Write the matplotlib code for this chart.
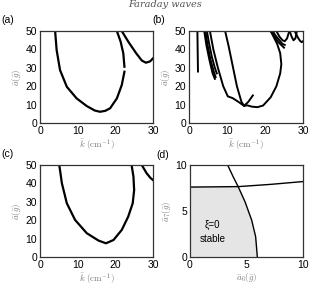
import numpy as np
import matplotlib
matplotlib.use('Agg')
import matplotlib.pyplot as plt

plt.rcParams['font.family'] = ['Liberation Sans', 'DejaVu Sans']
plt.rcParams['mathtext.fontset'] = 'cm'
plt.rcParams['font.size'] = 7.5

# ===================== data =====================
# panel (a)
a1_k = [4.0, 4.4, 5.3, 7.1, 9.7, 12.4, 14.5, 15.9, 17.3, 18.6, 20.4, 21.7, 22.4]
a1_y = [50, 39.7, 28.8, 19.7, 13.4, 9.2, 6.8, 6.1, 6.6, 8.0, 13.4, 20.7, 27.9]
a1b_k = [22.4, 22.1, 21.4, 20.4]
a1b_y = [30.6, 37.9, 44.2, 50]
a2_k = [21.7, 23.5, 25.5, 27.0, 28.1, 29.2, 30.0]
a2_y = [50, 44.0, 38.0, 34.0, 32.8, 33.5, 35.2]

# panel (b)
b_lines = [
    ([2.2, 2.25, 2.3, 2.35], [50, 42, 35, 28]),
    ([4.0, 4.6, 5.4, 6.2, 6.8], [50, 42, 34, 27, 24]),
    ([4.3, 4.9, 5.7, 6.5, 7.0], [50, 42, 34, 28, 25]),
    ([4.7, 5.3, 6.0, 6.8, 7.3], [50, 43, 36, 30, 27]),
    ([5.5, 6.4, 7.6, 9.0, 10.2, 11.5, 13.0, 14.5, 15.6, 16.8],
     [50, 40, 30, 20, 14.5, 13.5, 11.5, 9.3, 11.5, 15.0]),
    ([9.5, 10.4, 11.4, 12.6, 13.8, 14.5, 15.3, 16.5, 18.0, 19.5, 21.5, 23.0, 24.0, 24.3, 24.0, 23.2, 22.0, 21.5],
     [50, 42, 32, 20, 11.5, 9.3, 9.6, 8.9, 8.6, 9.5, 14.0, 20.0, 27.0, 32.0, 38.0, 43.0, 48.0, 50]),
    ([21.5, 22.5, 23.5, 24.5, 25.0], [50, 47, 44, 42, 41]),
    ([22.0, 22.8, 23.8, 24.6, 25.2], [50, 47.5, 45, 43, 42.5]),
    ([23.0, 23.8, 24.6, 25.2, 25.8, 26.4], [50, 47, 45, 44.5, 46, 50]),
    ([26.5, 27.0, 27.5, 28.0, 28.4], [50, 47, 45, 46, 50]),
    ([27.8, 28.3, 28.8, 29.3, 29.7, 30.0], [50, 48, 46, 44.5, 44, 44.5]),
]

# panel (c)
c1_k = [5.1, 5.8, 7.1, 9.3, 12.4, 15.5, 17.5, 19.5, 21.7, 23.4, 24.6, 24.96]
c1_y = [50, 40.0, 29.2, 20.1, 12.9, 8.9, 7.4, 9.2, 14.7, 21.9, 29.2, 36.0]
c1b_k = [24.96, 24.8, 24.3]
c1b_y = [37.0, 43.6, 50]
c2_k = [27.0, 28.3, 29.3, 30.0]
c2_y = [50, 45.5, 43.0, 41.8]

# panel (d)
d_curve_x = [3.33, 3.83, 4.28, 4.87, 5.46, 5.81, 5.96]
d_curve_y = [10.0, 8.7, 7.6, 6.0, 4.0, 2.2, 0.0]
d_flat_x = [0.0, 4.28, 7.2, 10.0]
d_flat_y = [7.6, 7.65, 7.9, 8.2]

# ===================== figure =====================
fig = plt.figure(figsize=(3.13, 2.88), dpi=100)
ax_a = fig.add_axes([0.128, 0.573, 0.361, 0.319])
ax_b = fig.add_axes([0.604, 0.573, 0.364, 0.319])
ax_c = fig.add_axes([0.128, 0.108, 0.361, 0.319])
ax_d = fig.add_axes([0.607, 0.108, 0.361, 0.319])

lw = 1.6
ax_a.plot(a1_k, a1_y, 'k-', lw=lw)
ax_a.plot(a1b_k, a1b_y, 'k-', lw=lw)
ax_a.plot(a2_k, a2_y, 'k-', lw=lw)

for xs, ys in b_lines:
    ax_b.plot(xs, ys, 'k-', lw=1.4)

ax_c.plot(c1_k, c1_y, 'k-', lw=lw)
ax_c.plot(c1b_k, c1b_y, 'k-', lw=lw)
ax_c.plot(c2_k, c2_y, 'k-', lw=lw)

# stable region in (d)
fill_x = [0.0] + d_curve_x[2:] + [0.0]
fill_y = [d_flat_y[0]] + d_curve_y[2:] + [0.0]
ax_d.fill(fill_x, fill_y, color='#e5e5e5', lw=0)
ax_d.plot(d_curve_x, d_curve_y, 'k-', lw=1.0)
ax_d.plot(d_flat_x, d_flat_y, 'k-', lw=1.0)
ax_d.text(2.0, 2.7, 'ξ=0\nstable', ha='center', va='center', fontsize=7, linespacing=1.5)

lab_col = '#777777'
for ax in (ax_a, ax_b, ax_c):
    ax.set_xlim(0, 30)
    ax.set_ylim(0, 50)
    ax.set_xticks([0, 10, 20, 30])
    ax.set_yticks([0, 10, 20, 30, 40, 50])
    ax.set_xlabel(r'$\bar{k}\ (\mathrm{cm}^{-1})$', fontsize=6.5, color=lab_col, labelpad=1)
    ax.set_ylabel(r'$\bar{a}(\bar{g})$', fontsize=6.5, color=lab_col, labelpad=2)

ax_d.set_xlim(0, 10)
ax_d.set_ylim(0, 10)
ax_d.set_xticks([0, 5, 10])
ax_d.set_yticks([0, 5, 10])
ax_d.set_xlabel(r'$\bar{a}_6(\bar{g})$', fontsize=6.5, color=lab_col, labelpad=1)
ax_d.set_ylabel(r'$\bar{a}_7(\bar{g})$', fontsize=6.5, color=lab_col, labelpad=2)

for ax in (ax_a, ax_b, ax_c, ax_d):
    ax.tick_params(direction='in', length=0, pad=2, labelsize=7.5)
    for s in ax.spines.values():
        s.set_color('#333333')
        s.set_linewidth(0.9)

fig.text(0.005, 0.92, '(a)', fontsize=7.5)
fig.text(0.487, 0.92, '(b)', fontsize=7.5)
fig.text(0.005, 0.455, '(c)', fontsize=7.5)
fig.text(0.500, 0.450, '(d)', fontsize=7.5)

fig.text(0.527, 0.985, 'Faraday waves', fontsize=7, style='italic', family='DejaVu Serif',
         color='#555555', ha='center', va='center')

fig.savefig('out.png', dpi=100)
